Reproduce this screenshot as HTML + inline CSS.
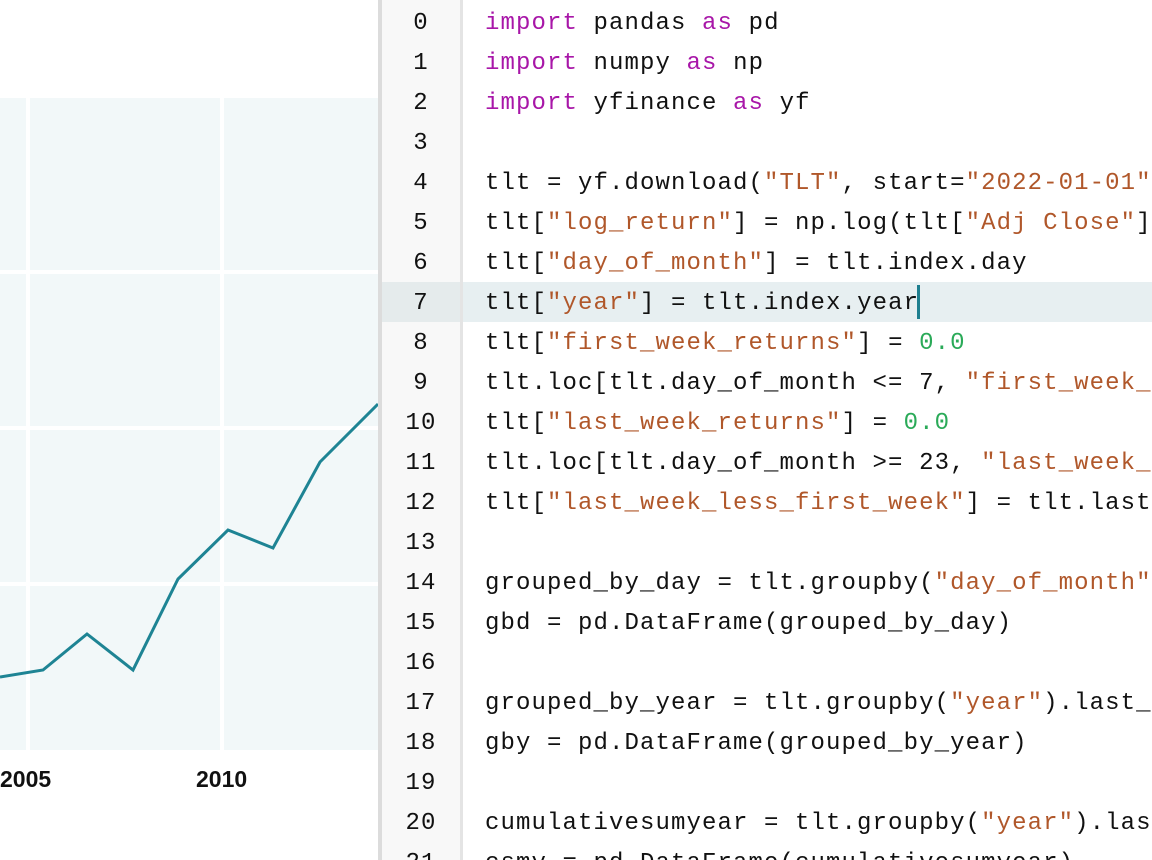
<!DOCTYPE html>
<html><head><meta charset="utf-8"><style>
html,body{margin:0;padding:0;width:1152px;height:860px;overflow:hidden;background:#fff;position:relative}
#wrap{position:absolute;left:0;top:0;width:1152px;height:860px;overflow:hidden}
.mono{font-family:"Liberation Mono",monospace;font-size:24px;letter-spacing:1.1px;color:#111}
#gut{position:absolute;left:382px;top:0;width:78px;height:860px;background:#f8f8f8;border-right:3px solid #e4e4e4}
#sep{position:absolute;left:378px;top:0;width:4px;height:860px;background:#dcdcdc}
.ln{position:absolute;left:382px;width:78px;text-align:center;height:40px;line-height:40px}
.cl{position:absolute;left:485px;height:40px;line-height:40px;white-space:pre}
.k{color:#a816a8}.s{color:#b0572a}.n{color:#2aaa58}
#hl{position:absolute;left:382px;top:282px;width:770px;height:40px;background:#e7eff1}
#cur{position:absolute;left:917px;top:285px;width:3px;height:34px;background:#1e7f8f}
.yl{position:absolute;top:766px;font-family:"Liberation Sans",sans-serif;font-weight:bold;font-size:23px;color:#111}
</style></head><body><div id="wrap">
<svg width="378" height="860" style="position:absolute;left:0;top:0">
<rect x="0" y="98" width="378" height="652" fill="#f2f8f9"/>
<g stroke="#fff" stroke-width="4">
<line x1="28" y1="98" x2="28" y2="750"/><line x1="222" y1="98" x2="222" y2="750"/>
<line x1="0" y1="272" x2="378" y2="272"/><line x1="0" y1="428" x2="378" y2="428"/><line x1="0" y1="584" x2="378" y2="584"/>
</g>
<polyline fill="none" stroke="#1e8494" stroke-width="3" points="0,677 43,670 87,634 133,670 178,579 228,530 273,548 320,462 378,404"/>
</svg>
<div class="yl" style="left:0">2005</div>
<div class="yl" style="left:196px">2010</div>
<div id="sep"></div>
<div id="hl"></div>
<div id="gut"></div>
<div style="position:absolute;left:382px;top:282px;width:78px;height:40px;background:#e5ebec"></div>
<div class="mono" style="position:absolute;left:0;top:2px;width:1152px;height:860px">
<div class="ln" style="top:2px">0</div><div class="ln" style="top:42px">1</div><div class="ln" style="top:82px">2</div><div class="ln" style="top:122px">3</div><div class="ln" style="top:162px">4</div><div class="ln" style="top:202px">5</div><div class="ln" style="top:242px">6</div><div class="ln" style="top:282px">7</div><div class="ln" style="top:322px">8</div><div class="ln" style="top:362px">9</div><div class="ln" style="top:402px">10</div><div class="ln" style="top:442px">11</div><div class="ln" style="top:482px">12</div><div class="ln" style="top:522px">13</div><div class="ln" style="top:562px">14</div><div class="ln" style="top:602px">15</div><div class="ln" style="top:642px">16</div><div class="ln" style="top:682px">17</div><div class="ln" style="top:722px">18</div><div class="ln" style="top:762px">19</div><div class="ln" style="top:802px">20</div><div class="ln" style="top:842px">21</div>
<div class="cl" style="top:2px"><span class="k">import</span> pandas <span class="k">as</span> pd</div>
<div class="cl" style="top:42px"><span class="k">import</span> numpy <span class="k">as</span> np</div>
<div class="cl" style="top:82px"><span class="k">import</span> yfinance <span class="k">as</span> yf</div>
<div class="cl" style="top:162px">tlt = yf.download(<span class="s">"TLT"</span>, start=<span class="s">"2022-01-01"</span></div>
<div class="cl" style="top:202px">tlt[<span class="s">"log_return"</span>] = np.log(tlt[<span class="s">"Adj Close"</span>]</div>
<div class="cl" style="top:242px">tlt[<span class="s">"day_of_month"</span>] = tlt.index.day</div>
<div class="cl" style="top:282px">tlt[<span class="s">"year"</span>] = tlt.index.year</div>
<div class="cl" style="top:322px">tlt[<span class="s">"first_week_returns"</span>] = <span class="n">0.0</span></div>
<div class="cl" style="top:362px">tlt.loc[tlt.day_of_month &lt;= 7, <span class="s">"first_week_</span></div>
<div class="cl" style="top:402px">tlt[<span class="s">"last_week_returns"</span>] = <span class="n">0.0</span></div>
<div class="cl" style="top:442px">tlt.loc[tlt.day_of_month &gt;= 23, <span class="s">"last_week_</span></div>
<div class="cl" style="top:482px">tlt[<span class="s">"last_week_less_first_week"</span>] = tlt.last</div>
<div class="cl" style="top:562px">grouped_by_day = tlt.groupby(<span class="s">"day_of_month"</span></div>
<div class="cl" style="top:602px">gbd = pd.DataFrame(grouped_by_day)</div>
<div class="cl" style="top:682px">grouped_by_year = tlt.groupby(<span class="s">"year"</span>).last_</div>
<div class="cl" style="top:722px">gby = pd.DataFrame(grouped_by_year)</div>
<div class="cl" style="top:802px">cumulativesumyear = tlt.groupby(<span class="s">"year"</span>).las</div>
<div class="cl" style="top:842px">csmy = pd.DataFrame(cumulativesumyear)</div>
</div>
<div id="cur"></div>
</div></body></html>
